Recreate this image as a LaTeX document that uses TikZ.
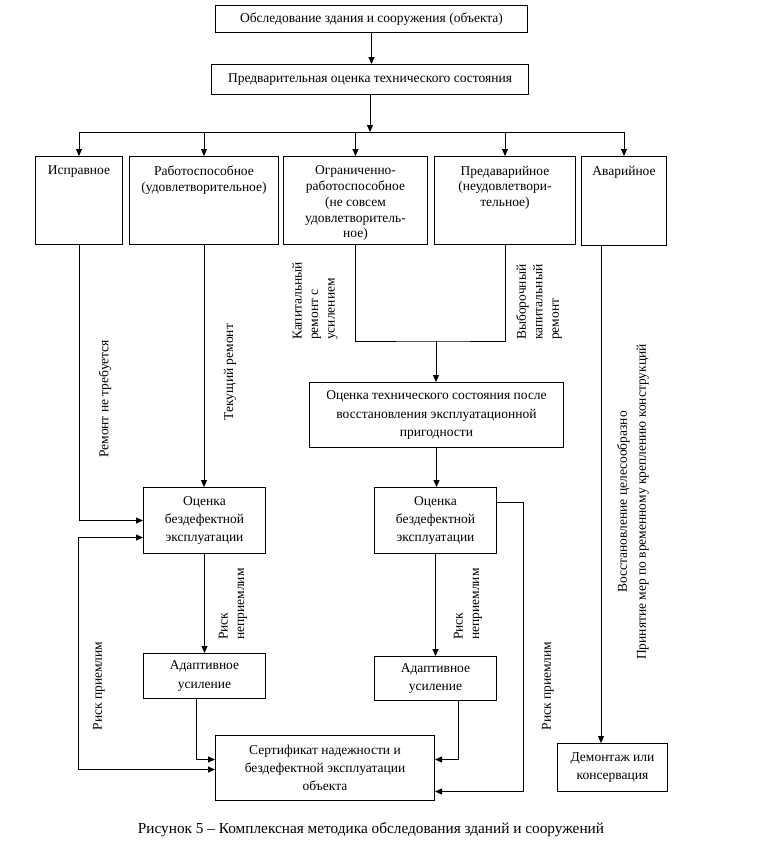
\documentclass[tikz,border=0pt]{standalone}
\usepackage{fontspec}
\setmainfont{Liberation Serif}
\usetikzlibrary{arrows.meta}
\newcommand\fsA{\fontsize{13.5pt}{18.3pt}\selectfont}
\newcommand\fsB{\fontsize{13.5pt}{15.7pt}\selectfont}
\newcommand\fsC{\fontsize{13.5pt}{16.5pt}\selectfont}
\newcommand\topbox[3]{\parbox[c][#2][t]{#1}{\centering\fsB\vspace*{9.5pt}#3\par}}
\begin{document}
\begin{tikzpicture}[x=1pt,y=-1pt,
  box/.style={draw, line width=1pt, inner sep=0pt, anchor=north west, align=center, font=\fsA},
  sbox/.style={draw, line width=1pt, inner sep=0pt, anchor=north west},
  arr/.style={line width=0.9pt, -{Triangle[length=7pt,width=6pt]}},
  arrb/.style={line width=0.9pt, {Triangle[length=7pt,width=6pt]}-{Triangle[length=7pt,width=6pt]}},
  ln/.style={line width=0.9pt},
  lbl/.style={inner sep=0pt, rotate=90, font=\fsC}]
\useasboundingbox (0,0) rectangle (763,854);

\node[box, minimum width=312pt, minimum height=27pt] (b1) at (215,5) {Обследование здания и сооружения (объекта)};
\node[box, minimum width=317pt, minimum height=30pt] (b2) at (211,64) {Предварительная оценка технического состояния};

\node[sbox] (s1) at (35,156) {\topbox{87pt}{88pt}{Исправное}};
\node[sbox] (s2) at (129,156) {\topbox{149pt}{88pt}{Работоспособное\\(удовлетворительное)}};
\node[sbox] (s3) at (283,156) {\topbox{144pt}{88pt}{Ограниченно-\\работоспособное\\(не совсем\\удовлетворитель-\\ное)}};
\node[sbox] (s4) at (434,156) {\topbox{141pt}{88pt}{Предаварийное\\(неудовлетвори-\\тельное)}};
\node[sbox] (s5) at (581,156) {\topbox{85pt}{89pt}{Аварийное}};

\node[box, minimum width=254pt, minimum height=65pt] (ot) at (309,382) {Оценка технического состояния после\\восстановления эксплуатационной\\пригодности};
\node[box, minimum width=122pt, minimum height=66pt] (o1) at (143,487) {Оценка\\бездефектной\\эксплуатации};
\node[box, minimum width=122pt, minimum height=66pt] (o2) at (374,487) {Оценка\\бездефектной\\эксплуатации};
\node[box, minimum width=122pt, minimum height=45pt] (a1) at (143,653) {Адаптивное\\усиление};
\node[box, minimum width=122pt, minimum height=44pt] (a2) at (374,656) {Адаптивное\\усиление};
\node[box, minimum width=219pt, minimum height=65pt] (cert) at (215,735) {Сертификат надежности и\\бездефектной эксплуатации\\объекта};
\node[box, minimum width=110pt, minimum height=48pt] (dem) at (557,743) {Демонтаж или\\консервация};

% labels
\node[lbl] (l1) at (105,399) {Ремонт не требуется};
\node[lbl] (l2) at (230,372) {Текущий ремонт};
\node[lbl, anchor=west, align=left] (l3) at (315,340) {Капитальный\\ремонт с\\усилением};
\node[lbl, anchor=west, align=left] (l4) at (539,340) {Выборочный\\капитальный\\ремонт};
\node[lbl, anchor=west, align=left] (l5) at (233,640) {Риск\\неприемлим};
\node[lbl, anchor=west, align=left] (l6) at (468,640) {Риск\\неприемлим};
\node[lbl] (l7) at (99,686) {Риск приемлим};
\node[lbl] (l8) at (548,686) {Риск приемлим};
\node[lbl, align=center, font=\fontsize{13.5pt}{19pt}\selectfont] (l9) at (633,502) {Восстановление целесообразно\\Принятие мер по временному креплению конструкций};

\node[inner sep=0pt, font=\fontsize{15.3pt}{18pt}\selectfont] (cap) at (371,830) {Рисунок 5 – Комплексная методика обследования зданий и сооружений};

% connectors
\coordinate (j) at (369,132);
\coordinate (mj) at (436,341);
\draw[arr] (b1.south) -- (b1.south |- b2.north);
\draw[arr] (b2.south) -- (b2.south |- j);
\draw[ln] (s1.north |- j) -- (s5.north |- j);
\foreach \s in {s1,s2,s3,s4,s5} \draw[arr] (\s.north |- j) -- (\s.north);
\draw[arr] (s1.south) |- (o1.west);
\draw[arr] (s2.south) -- (s2.south |- o1.north);
\draw[ln] (s3.south) |- (mj) -| (s4.south);
\draw[arr] (mj) -- (mj |- ot.north);
\draw[arr] (ot.south) -- (ot.south |- o2.north);
\draw[arr] (o1.south) -- (a1.north);
\draw[arr] (o2.south) -- (a2.north);
\draw[arr] ([xshift=-8pt]a1.south) |- ([yshift=8.5pt]cert.west);
\draw[arr] ([xshift=23pt]a2.south) |- ([yshift=8.5pt]cert.east);
\draw[arr] ([yshift=18pt]o2.east) -- ++(26,0) |- ([yshift=-23.5pt]cert.east);
\draw[arrb] ([yshift=-17pt]o1.west) -- ++(-65,0) |- ([yshift=-1.5pt]cert.west);
\draw[arr] ([xshift=-23pt]s5.south) -- ([xshift=-23pt]s5.south |- dem.north);
\end{tikzpicture}
\end{document}
